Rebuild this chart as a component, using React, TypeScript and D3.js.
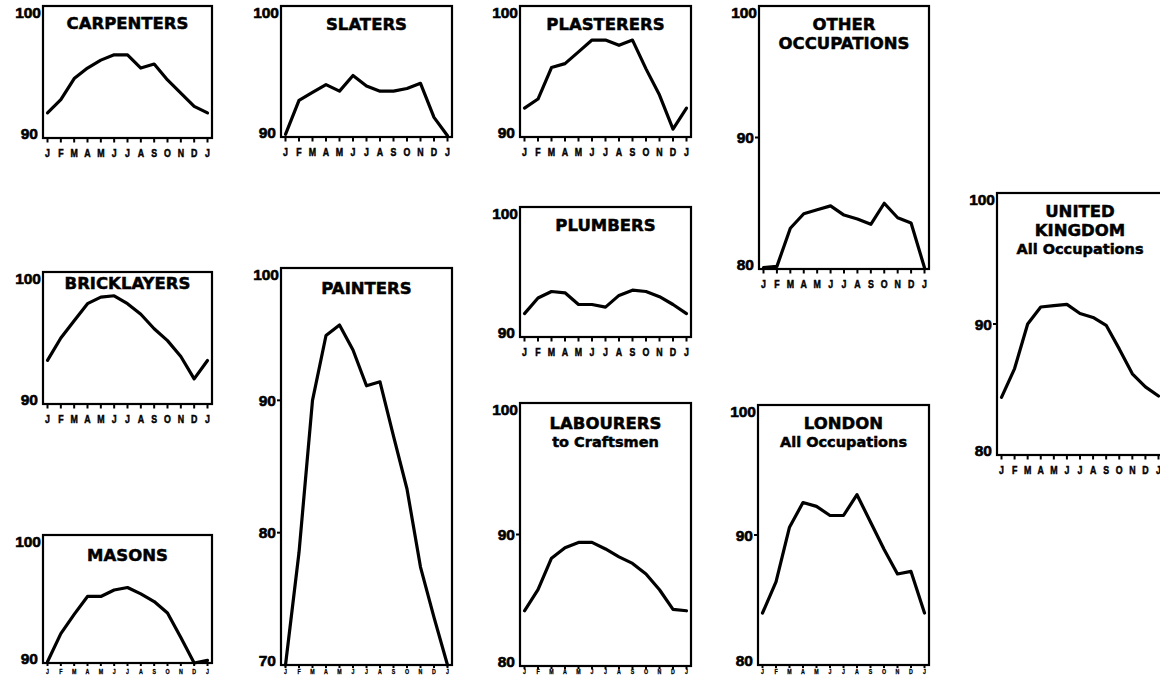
import React from "react";
import * as d3 from "d3";

// ---- data (index of wages by month, Jan..Jan) ----
const months = ["J", "F", "M", "A", "M", "J", "J", "A", "S", "O", "N", "D", "J"];

const carpenters = [91.9, 92.9, 94.5, 95.3, 95.9, 96.3, 96.3, 95.3, 95.6, 94.4, 93.4, 92.4, 91.9];
const slaters = [90.2, 92.8, 93.4, 94.0, 93.5, 94.7, 93.9, 93.5, 93.5, 93.7, 94.1, 91.5, 90.1];
const plasterers = [92.2, 92.9, 95.3, 95.6, 96.5, 97.4, 97.4, 97.0, 97.4, 95.2, 93.2, 90.6, 92.2];
const otherOccupations = [80.1, 80.2, 83.1, 84.2, 84.5, 84.8, 84.1, 83.8, 83.4, 85.0, 83.9, 83.5, 80.1];
const plumbers = [91.8, 93.0, 93.5, 93.4, 92.5, 92.5, 92.3, 93.2, 93.6, 93.5, 93.1, 92.5, 91.8];
const bricklayers = [93.3, 95.0, 96.3, 97.6, 98.1, 98.2, 97.6, 96.8, 95.7, 94.8, 93.6, 91.9, 93.3];
const painters = [70.0, 78.5, 90.0, 94.9, 95.7, 93.8, 91.1, 91.4, 87.3, 83.3, 77.4, 73.6, 70.0];
const masons = [90.1, 92.3, 93.8, 95.2, 95.2, 95.7, 95.9, 95.4, 94.8, 93.9, 92.0, 90.0, 90.2];
const labourers = [84.2, 85.8, 88.2, 89.0, 89.4, 89.4, 88.9, 88.3, 87.8, 87.0, 85.8, 84.3, 84.2];
const london = [84.0, 86.4, 90.6, 92.5, 92.2, 91.5, 91.5, 93.1, 91.0, 88.9, 87.0, 87.2, 84.0];
const unitedKingdom = [84.4, 86.6, 90.0, 91.3, 91.4, 91.5, 90.8, 90.5, 89.9, 88.1, 86.2, 85.2, 84.5];

const ticks90 = [90, 100];
const ticks80 = [80, 90, 100];
const ticks70 = [70, 80, 90, 100];

// ---- layout ----
type Panel = {
  title: string[];
  sub?: string[];
  values: number[];
  ticks: number[];
  x0: number;
  x1: number;
  y0: number;
  y1: number;
  titleDy: number;
};

const panels: Panel[] = [
  { title: ["CARPENTERS"], values: carpenters, ticks: ticks90, x0: 43, x1: 212, y0: 6, y1: 138, titleDy: 17 },
  { title: ["SLATERS"], values: slaters, ticks: ticks90, x0: 281, x1: 452, y0: 6, y1: 137, titleDy: 18 },
  { title: ["PLASTERERS"], values: plasterers, ticks: ticks90, x0: 520, x1: 691, y0: 6, y1: 137, titleDy: 18 },
  { title: ["OTHER", "OCCUPATIONS"], values: otherOccupations, ticks: ticks80, x0: 759, x1: 929, y0: 6, y1: 269, titleDy: 18 },
  { title: ["PLUMBERS"], values: plumbers, ticks: ticks90, x0: 520, x1: 691, y0: 207, y1: 337, titleDy: 18 },
  { title: ["BRICKLAYERS"], values: bricklayers, ticks: ticks90, x0: 43, x1: 212, y0: 272, y1: 404, titleDy: 11 },
  { title: ["PAINTERS"], values: painters, ticks: ticks70, x0: 281, x1: 452, y0: 268, y1: 665, titleDy: 20 },
  { title: ["MASONS"], values: masons, ticks: ticks90, x0: 43, x1: 212, y0: 535, y1: 663, titleDy: 20 },
  { title: ["LABOURERS"], sub: ["to Craftsmen"], values: labourers, ticks: ticks80, x0: 520, x1: 691, y0: 403, y1: 666, titleDy: 20 },
  { title: ["LONDON"], sub: ["All Occupations"], values: london, ticks: ticks80, x0: 758, x1: 929, y0: 405, y1: 665, titleDy: 18 },
  { title: ["UNITED", "KINGDOM"], sub: ["All Occupations"], values: unitedKingdom, ticks: ticks80, x0: 997, x1: 1163, y0: 193, y1: 455, titleDy: 18 },
];

const TITLE_FONT = "'DejaVu Sans', sans-serif";
const LABEL_FONT = "'Liberation Sans', Arial, sans-serif";
const H = 675;

function ChartPanel({ p }: { p: Panel }) {
  const lo = d3.min(p.ticks) as number;
  const hi = d3.max(p.ticks) as number;
  const x = d3
    .scalePoint<number>()
    .domain(d3.range(months.length))
    .range([p.x0 + 4.5, p.x1 - 4.5]);
  const y = d3.scaleLinear().domain([lo, hi]).range([p.y1, p.y0]);
  const line = d3
    .line<number>()
    .x((_, i) => x(i) as number)
    .y((d) => y(d));
  const cx = (p.x0 + p.x1) / 2;
  const lines = [...p.title.map((t) => ({ t, sub: false })), ...(p.sub || []).map((t) => ({ t, sub: true }))];
  // month labels near the page bottom are squeezed into the remaining strip
  const fits = p.y1 + 19 <= H - 1;
  const monthY = fits ? p.y1 + 19 : H - 0.8;
  const monthSize = fits ? 11 : 6.6;
  const tickLen = fits ? 4.5 : 3;
  return (
    <g>
      <defs>
        <clipPath id={`clip-${p.x0}-${p.y0}`}>
          <rect x={p.x0} y={p.y0 - 2} width={p.x1 - p.x0} height={p.y1 - p.y0 + 4} />
        </clipPath>
      </defs>
      <path
        d={line(p.values) || ""}
        fill="none"
        stroke="#000"
        strokeWidth={3.2}
        strokeLinejoin="round"
        strokeLinecap="round"
        clipPath={`url(#clip-${p.x0}-${p.y0})`}
      />
      <rect x={p.x0} y={p.y0} width={p.x1 - p.x0} height={p.y1 - p.y0} fill="none" stroke="#000" strokeWidth={2.2} />
      {months.map((m, i) => (
        <g key={i}>
          <line x1={x(i)} x2={x(i)} y1={p.y1} y2={p.y1 + tickLen} stroke="#000" strokeWidth={2} />
          <text
            transform={`translate(${x(i)},${monthY}) scale(0.8,1)`}
            textAnchor="middle"
            fontFamily={LABEL_FONT}
            fontWeight={900}
            fontSize={monthSize}
            stroke="#000"
            strokeWidth={fits ? 0.5 : 0.3}
            fill="#000"
          >
            {m}
          </text>
        </g>
      ))}
      {p.ticks.map((t) => {
        const ty = y(t);
        const isTop = t === hi;
        const isBottom = t === lo;
        const labelY = isTop ? p.y0 + 6.5 : isBottom ? p.y1 - 5 : ty;
        return (
          <g key={t}>
            {!isTop && !isBottom && (
              <line x1={p.x0 - 4} x2={p.x0} y1={ty} y2={ty} stroke="#000" strokeWidth={2} />
            )}
            <text
              x={isTop ? p.x0 - 2 : p.x0 - 5}
              y={labelY}
              dominantBaseline="central"
              textAnchor="end"
              fontFamily={LABEL_FONT}
              fontWeight={700}
              fontSize={15.5}
              stroke="#000"
              strokeWidth={0.6}
              fill="#000"
            >
              {t}
            </text>
          </g>
        );
      })}
      {lines.map((l, i) => (
        <text
          key={i}
          x={cx}
          y={p.y0 + p.titleDy + i * 19}
          dominantBaseline="central"
          textAnchor="middle"
          fontFamily={TITLE_FONT}
          fontWeight={700}
          fontSize={l.sub ? 14.5 : 16.5}
          stroke="#000"
          strokeWidth={0.5}
          fill="#000"
        >
          {l.t}
        </text>
      ))}
    </g>
  );
}

export default function App() {
  return (
    <svg
      width={1160}
      height={H}
      viewBox={`0 0 1160 ${H}`}
      style={{ position: "absolute", left: 0, top: 0, background: "#fff" }}
    >
      <rect x={0} y={0} width={1160} height={H} fill="#fff" />
      {panels.map((p, i) => (
        <ChartPanel key={i} p={p} />
      ))}
    </svg>
  );
}
